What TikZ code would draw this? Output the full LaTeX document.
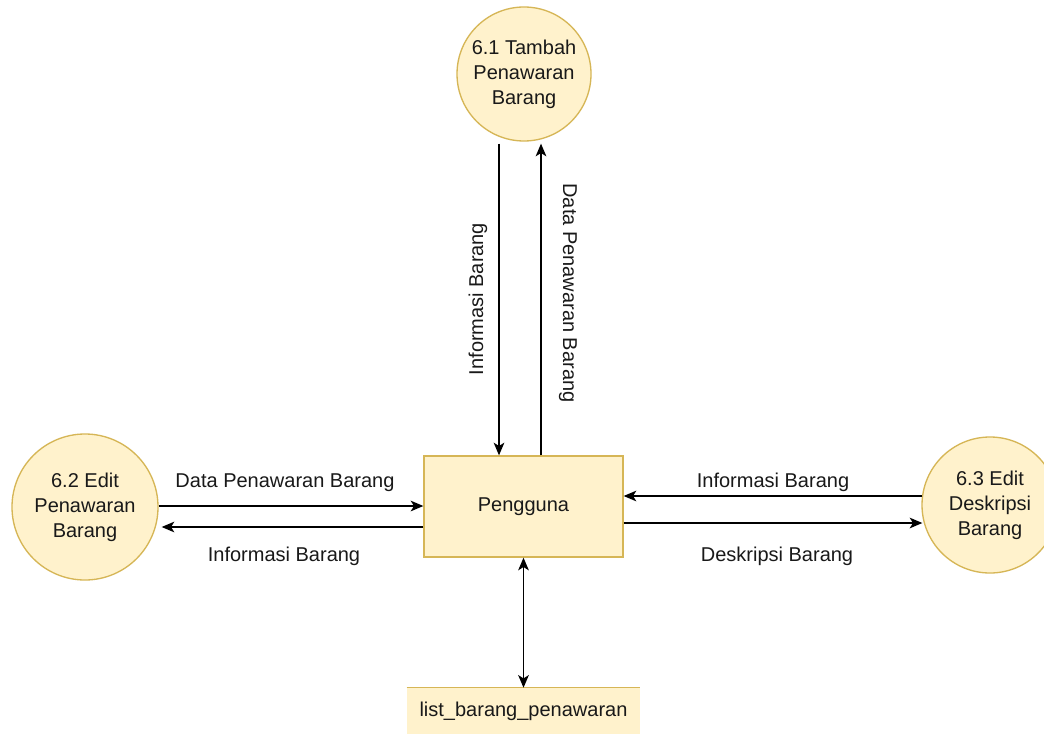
\documentclass[tikz,border=0pt]{standalone}
\usepackage{fontspec}
\setmainfont{Liberation Sans}
\usetikzlibrary{arrows.meta,calc}
\definecolor{ylfill}{HTML}{FFF2CC}
\definecolor{ylline}{HTML}{D6B656}
\begin{document}
\begin{tikzpicture}[x=0.75pt,y=-0.75pt,
  every node/.style={font=\fontsize{15}{18.75}\selectfont, text=black!90},
  proc/.style={circle, draw=ylline, fill=ylfill, line width=1pt, align=center, inner sep=0pt},
  ent/.style={rectangle, draw=ylline, fill=ylfill, line width=1pt, minimum width=149.25pt, minimum height=75.75pt},
  flow/.style={line width=1.1pt, -{Stealth[length=9.5pt,width=8pt,inset=2.5pt]}},
  bflow/.style={line width=1.1pt, {Stealth[length=9.5pt,width=8pt,inset=2.5pt]}-{Stealth[length=9.5pt,width=8pt,inset=2.5pt]}},
  lbl/.style={inner sep=1pt}]
\useasboundingbox (0,0) rectangle (1044,734);
\fill[white] (0,0) rectangle (1044,734);

\node[proc, minimum size=100.5pt] (c61) at (524,74) {6.1 Tambah\\Penawaran\\Barang};
\node[proc, minimum size=109.5pt] (c62) at (85,507) {6.2 Edit\\Penawaran\\Barang};
\node[proc, minimum size=102pt] (c63) at (990,505) {6.3 Edit\\Deskripsi\\Barang};
\node[ent] (pg) at (523.5,506.5) {Pengguna};

\node[fill=ylfill, minimum width=174.75pt, minimum height=34.5pt, inner sep=0pt] (ds) at (523.5,711) {list\_barang\_penawaran};
\draw[ylline, line width=1pt] (ds.north west) -- (ds.north east);

% vertical flows
\draw[flow] ($(c61.south)+(-25,2)$) -- ($(pg.north)+(-24.5,0)$);
\draw[flow] ($(pg.north)+(17.5,0)$) -- ($(c61.south)+(17,2)$);
\node[lbl, rotate=90] (l1) at (478,299) {Informasi Barang};
\node[lbl, rotate=-90] (l2) at (568,293) {Data Penawaran Barang};

% left flows
\draw[flow] ($(c62.east)+(0,-1)$) -- ($(pg.west)+(0,-0.5)$);
\draw[flow] ($(pg.west)+(0,20.5)$) -- ($(c62.east)+(3,20)$);
\node[lbl] (l3) at (285,483) {Data Penawaran Barang};
\node[lbl] (l4) at (284,556) {Informasi Barang};

% right flows
\draw[flow] ($(c63.west)+(1,-9)$) -- ($(pg.east)+(0,-10.5)$);
\draw[flow] ($(pg.east)+(0,16.5)$) -- ($(c63.west)+(1,18)$);
\node[lbl] (l5) at (773,482) {Informasi Barang};
\node[lbl] (l6) at (777,556) {Deskripsi Barang};

% datastore
\draw[bflow] (pg.south) -- (pg.south |- ds.north);
\end{tikzpicture}
\end{document}
